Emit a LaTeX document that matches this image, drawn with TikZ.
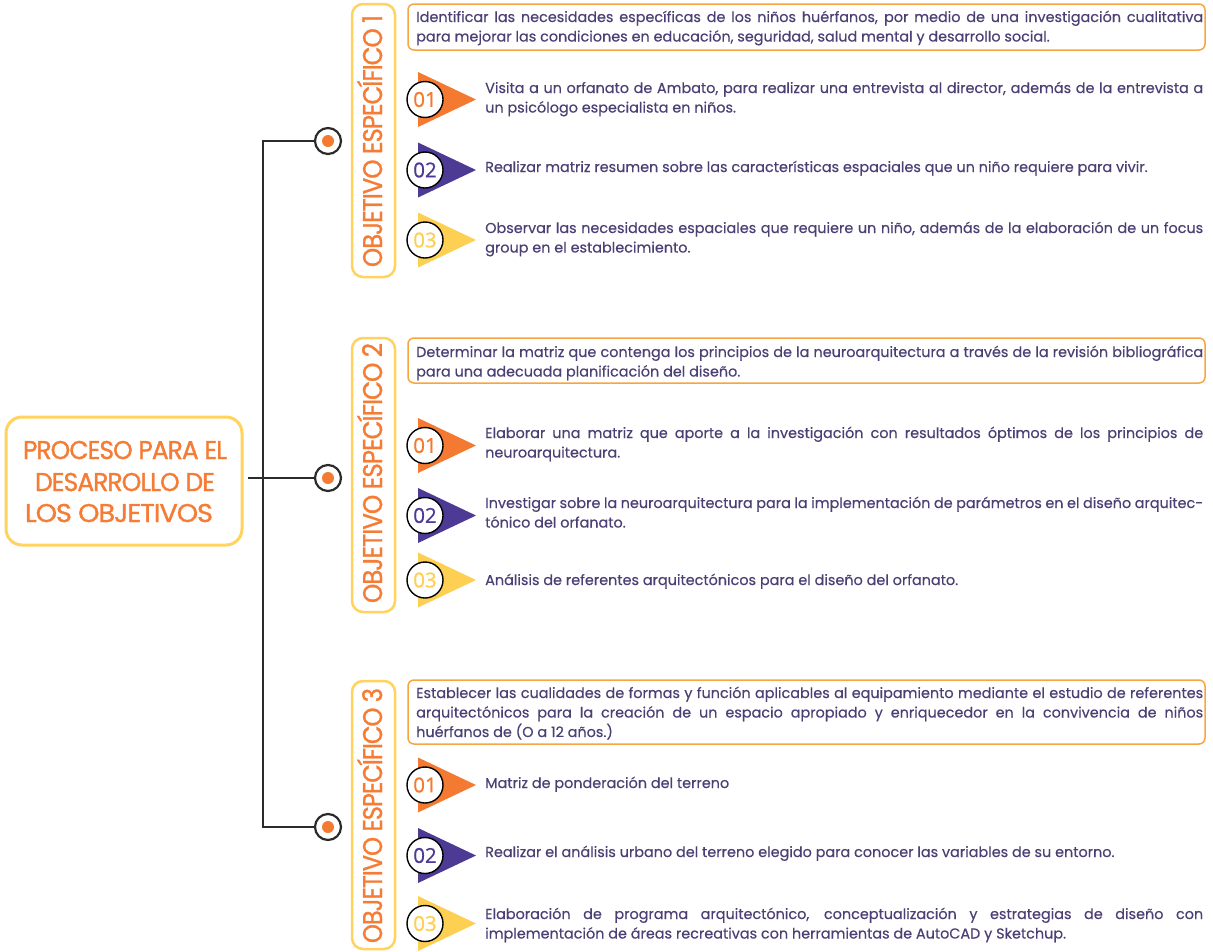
\documentclass[tikz,border=0pt]{standalone}
\usepackage{fontspec}
\setmainfont{Poppins}
\newfontfamily\heavyfam{Poppins}[FakeBold=1.2,LetterSpace=-4]
\newfontfamily\bodyfam{Poppins}[FakeBold=0.4]
\newfontfamily\digitfam{Open Sans}[FakeBold=0.8]
\usepackage{graphicx}
\definecolor{orT}{HTML}{F37A30}
\definecolor{puT}{HTML}{4D3A94}
\definecolor{yeT}{HTML}{FDD053}
\definecolor{txt}{HTML}{4B3F74}
\definecolor{yeB}{HTML}{FFD35E}
\definecolor{orB}{HTML}{F8A440}
\definecolor{orText}{HTML}{F47C35}
\definecolor{lineC}{HTML}{2B2B2B}
\hyphenpenalty=10000
\exhyphenpenalty=10000
\newcommand\bodyfont{\bodyfam\fontsize{14.4pt}{19.5pt}\selectfont}
\newcommand\numfont{\digitfam\fontsize{20.5pt}{22pt}\selectfont}
\newcommand\titlefont{\heavyfam\fontsize{25.7pt}{30pt}\selectfont}
\newcommand\labfont{\heavyfam\fontsize{27pt}{30pt}\selectfont}
\begin{document}
\begin{tikzpicture}[x=1pt,y=-1pt,
  conn/.style={draw=lineC, line width=2pt},
  hub/.style={circle, draw=lineC, line width=2.2pt, fill=white, minimum size=26pt, inner sep=0pt},
  hubdot/.style={fill=orT},
  mainbox/.style={draw=yeB, line width=3pt, rounded corners=16pt, minimum width=236pt, minimum height=128pt, inner sep=0pt},
  maintitle/.style={anchor=base, inner sep=0pt, text=orText, font=\titlefont},
  labelbox/.style={draw=yeB, line width=2.5pt, rounded corners=11pt, minimum width=43pt, inner sep=0pt},
  labeltext/.style={rotate=90, anchor=base, inner sep=0pt, text=orText, font=\labfont},
  goalbox/.style={draw=orB, line width=1.5pt, rounded corners=6pt, minimum width=797pt, inner sep=0pt},
  goaltext/.style={anchor=base west, text width=787pt, align=justify, inner sep=0pt, text=txt, font=\bodyfont},
  itemtext/.style={anchor=base west, text width=718pt, align=justify, inner sep=0pt, text=txt, font=\bodyfont},
  numcirc/.style={circle, draw=black, line width=1.4pt, fill=white, minimum size=36pt, inner sep=0pt, font=\numfont}
]
\useasboundingbox (0,0) rectangle (1213,951);

\newcommand\ItemMark[4]{%
  \fill[#3] (418,{#2-27.5}) -- (476,#2) -- (418,{#2+27.5}) -- cycle;
  \node[numcirc, text=#3] (#1) at (425,#2) {#4};
}

% main box
\node[mainbox] (main) at (124,481) {};
\node[maintitle] (mt1) at (125,459) {\resizebox{204pt}{\height}{PROCESO PARA EL}};
\node[maintitle] (mt2) at (125,491) {\resizebox{180pt}{\height}{DESARROLLO DE}};
\node[maintitle] (mt3) at (119,522) {\resizebox{188pt}{\height}{LOS OBJETIVOS}};

% hubs
\node[hub] (h1) at (328,141) {};
\node[hub] (h2) at (328,478) {};
\node[hub] (h3) at (328,827) {};
\fill[hubdot] (h1.center) circle[radius=6pt];
\fill[hubdot] (h2.center) circle[radius=6pt];
\fill[hubdot] (h3.center) circle[radius=6pt];
\coordinate (s1) at (263,141);
\coordinate (s3) at (263,827);
\coordinate (s2) at (263,478);
\draw[conn] (h1.west) -- (s1) -- (s3) -- (h3.west);
\draw[conn, shorten <=4pt] (main.east |- h2) -- (h2.west);

% label boxes
\node[labelbox, minimum height=273pt] (L1) at (373.5,140.5) {};
\node[labelbox, minimum height=274pt] (L2) at (373.5,475) {};
\node[labelbox, minimum height=268pt] (L3) at (373.5,815) {};
\node[labeltext] (LT1) at (382,141) {\resizebox{252pt}{\height}{OBJETIVO ESPECÍFICO 1}};
\node[labeltext] (LT2) at (382,473) {\resizebox{260pt}{\height}{OBJETIVO ESPECÍFICO 2}};
\node[labeltext] (LT3) at (382,815.5) {\resizebox{255pt}{\height}{OBJETIVO ESPECÍFICO 3}};

% goal boxes
\node[goalbox, minimum height=46pt] (G1) at (806.5,27) {};
\node[goalbox, minimum height=45pt] (G2) at (806.5,360.5) {};
\node[goalbox, minimum height=64pt] (G3) at (806.5,712) {};

\node[goaltext] (G1t) at (416,22) {Identificar las necesidades específicas de los niños huérfanos, por medio de una investigación cualitativa\linebreak para mejorar las condiciones en educación, seguridad, salud mental y desarrollo social.};
\node[goaltext] (G2t) at (416,357) {Determinar la matriz que contenga los principios de la neuroarquitectura a través de la revisión bibliográfica\linebreak para una adecuada planificación del diseño.};
\node[goaltext] (G3t) at (416,698) {Establecer las cualidades de formas y función aplicables al equipamiento mediante el estudio de referentes\linebreak arquitectónicos para la creación de un espacio apropiado y enriquecedor en la convivencia de niños\linebreak huérfanos de (O a 12 años.)};

% section 1 items
\ItemMark{n11}{99.5}{orT}{01}
\ItemMark{n12}{170}{puT}{02}
\ItemMark{n13}{240}{yeT}{03}
\node[itemtext] (i11) at (485,93) {Visita a un orfanato de Ambato, para realizar una entrevista al director, además de la entrevista a\linebreak un psicólogo especialista en niños.};
\node[itemtext] (i12) at (485,172) {Realizar matriz resumen sobre las características espaciales que un niño requiere para vivir.};
\node[itemtext] (i13) at (485,233) {Observar las necesidades espaciales que requiere un niño, además de la elaboración de un focus\linebreak group en el establecimiento.};

% section 2 items
\ItemMark{n21}{445.5}{orT}{01}
\ItemMark{n22}{515.5}{puT}{02}
\ItemMark{n23}{580}{yeT}{03}
\node[itemtext] (i21) at (485,438) {Elaborar una matriz que aporte a la investigación con resultados óptimos de los principios de\linebreak neuroarquitectura.};
\node[itemtext] (i22) at (485,508) {Investigar sobre la neuroarquitectura para la implementación de parámetros en el diseño arquitec-\linebreak tónico del orfanato.};
\node[itemtext] (i23) at (485,585) {Análisis de referentes arquitectónicos para el diseño del orfanato.};

% section 3 items
\ItemMark{n31}{785}{orT}{01}
\ItemMark{n32}{855.5}{puT}{02}
\ItemMark{n33}{923.5}{yeT}{03}
\node[itemtext] (i31) at (485,788) {Matriz de ponderación del terreno};
\node[itemtext] (i32) at (485,857) {Realizar el análisis urbano del terreno elegido para conocer las variables de su entorno.};
\node[itemtext] (i33) at (485,919) {Elaboración de programa arquitectónico, conceptualización y estrategias de diseño con\linebreak implementación de áreas recreativas con herramientas de AutoCAD y Sketchup.};
\end{tikzpicture}
\end{document}
